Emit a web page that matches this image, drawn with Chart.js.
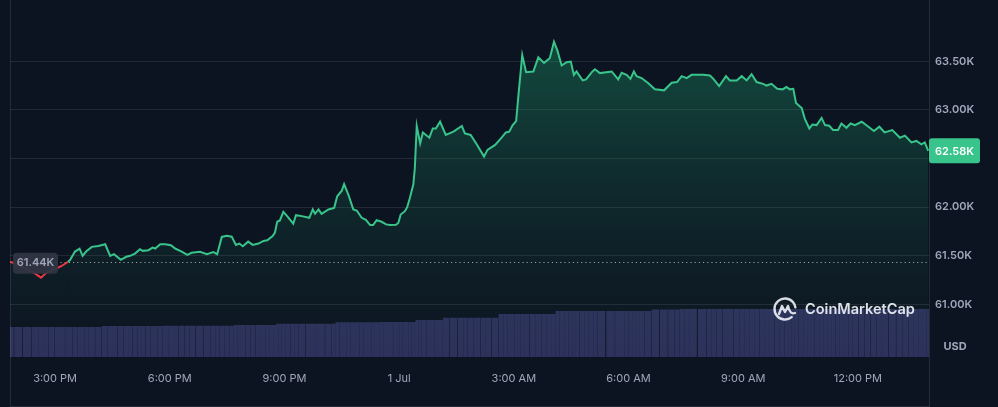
<!DOCTYPE html>
<html>
<head>
<meta charset="utf-8">
<script src="https://cdn.jsdelivr.net/npm/chart.js@4.4.1/dist/chart.umd.min.js"></script>
<style>
  html, body { margin: 0; padding: 0; background: #0d1421; }
  #wrap { width: 998px; height: 407px; position: relative; }
</style>
</head>
<body>
<div id="wrap"><canvas id="priceChart"></canvas></div>
<script>
// hours after 12:00 PM, 30 Jun
const times = [
    1.82, 2.03, 2.27, 2.48, 2.63, 2.74, 2.90, 3.08, 3.18, 3.34,
    3.39, 3.52, 3.64, 3.72, 3.81, 3.96, 4.13, 4.31, 4.44, 4.54,
    4.72, 4.86, 4.96, 5.09, 5.22, 5.29, 5.44, 5.55, 5.62, 5.75,
    5.88, 6.03, 6.14, 6.31, 6.46, 6.57, 6.79, 6.97, 7.14, 7.24,
    7.36, 7.49, 7.62, 7.73, 7.82, 7.91, 8.05, 8.17, 8.32, 8.45,
    8.55, 8.69, 8.75, 8.81, 8.88, 8.97, 9.07, 9.23, 9.30, 9.45,
    9.65, 9.74, 9.80, 9.89, 9.97, 10.15, 10.30, 10.38, 10.50, 10.56,
    10.67, 10.80, 10.89, 11.02, 11.13, 11.24, 11.32, 11.41, 11.54, 11.66,
    11.76, 11.92, 11.98, 12.04, 12.15, 12.21, 12.28, 12.37, 12.41, 12.46,
    12.55, 12.62, 12.79, 12.88, 12.96, 13.07, 13.22, 13.42, 13.64, 13.72,
    13.87, 14.04, 14.22, 14.31, 14.51, 14.68, 14.79, 14.88, 14.97, 15.06,
    15.12, 15.22, 15.32, 15.51, 15.64, 15.79, 15.94, 16.05, 16.14, 16.25,
    16.38, 16.49, 16.57, 16.64, 16.80, 16.89, 17.04, 17.12, 17.25, 17.56,
    17.73, 17.82, 17.95, 18.05, 18.14, 18.21, 18.34, 18.51, 18.69, 18.93,
    19.13, 19.27, 19.39, 19.52, 19.65, 19.95, 20.13, 20.22, 20.37, 20.55,
    20.65, 20.83, 20.96, 21.09, 21.22, 21.35, 21.52, 21.61, 21.74, 21.89,
    22.03, 22.13, 22.22, 22.31, 22.38, 22.53, 22.61, 22.73, 22.81, 22.92,
    23.05, 23.14, 23.25, 23.35, 23.48, 23.57, 23.70, 23.81, 23.92, 24.10,
    24.24, 24.42, 24.56, 24.70, 24.90, 25.10, 25.23, 25.40, 25.53, 25.66,
    25.75, 25.84
];

// BTC price, USD
const prices = [
    61440, 61408, 61357, 61316, 61276, 61316, 61347, 61378, 61398, 61439,
    61456, 61544, 61574, 61500, 61544, 61592, 61602, 61619, 61500, 61517,
    61459, 61490, 61500, 61523, 61568, 61551, 61558, 61585, 61575, 61619,
    61619, 61609, 61575, 61544, 61510, 61531, 61541, 61517, 61538, 61517,
    61694, 61707, 61697, 61612, 61626, 61599, 61646, 61612, 61626, 61653,
    61660, 61704, 61738, 61850, 61864, 61952, 61908, 61830, 61918, 61908,
    61891, 61977, 61932, 61977, 61932, 61977, 61993, 62112, 62170, 62238,
    62130, 61977, 61966, 61891, 61870, 61816, 61816, 61867, 61850, 61823,
    61816, 61819, 61840, 61925, 61959, 62000, 62095, 62232, 62401, 62834,
    62656, 62768, 62714, 62809, 62809, 62878, 62742, 62776, 62834, 62758,
    62742, 62640, 62520, 62589, 62640, 62714, 62768, 62776, 62844, 62885,
    63150, 63564, 63388, 63395, 63541, 63483, 63531, 63701, 63609, 63456,
    63490, 63497, 63360, 63395, 63303, 63313, 63388, 63418, 63378, 63395,
    63313, 63381, 63360, 63319, 63395, 63347, 63327, 63276, 63211, 63201,
    63279, 63286, 63347, 63327, 63360, 63360, 63354, 63319, 63245, 63347,
    63303, 63303, 63347, 63303, 63367, 63286, 63268, 63250, 63268, 63217,
    63211, 63235, 63211, 63217, 63071, 63020, 62911, 62809, 62850, 62844,
    62918, 62844, 62837, 62793, 62793, 62860, 62816, 62860, 62844, 62878,
    62837, 62783, 62827, 62768, 62793, 62714, 62735, 62666, 62681, 62646,
    62666, 62580
];

// 24h volume, billions USD
const volumes = [
    10.9, 10.9, 10.9, 10.9, 10.9, 10.9, 10.9, 10.9, 10.9, 10.9,
    10.9, 10.9, 10.9, 10.9, 10.9, 10.9, 10.9, 11.2, 11.2, 11.2,
    11.2, 11.2, 11.2, 11.2, 11.2, 11.2, 11.2, 11.2, 11.2, 11.2,
    11.3, 11.3, 11.3, 11.3, 11.3, 11.3, 11.3, 11.3, 11.3, 11.3,
    11.3, 11.3, 11.3, 11.6, 11.6, 11.6, 11.6, 11.6, 11.6, 11.6,
    11.6, 11.6, 11.6, 12.0, 12.0, 12.0, 12.0, 12.0, 12.0, 12.0,
    12.0, 12.0, 12.0, 12.0, 12.0, 12.0, 12.0, 12.6, 12.6, 12.6,
    12.6, 12.6, 12.6, 12.6, 12.6, 12.6, 12.6, 12.6, 12.7, 12.7,
    12.7, 12.7, 12.7, 12.7, 12.7, 12.7, 12.7, 12.7, 12.7, 13.4,
    13.4, 13.4, 13.4, 13.4, 13.4, 13.4, 14.2, 14.2, 14.2, 14.2,
    14.2, 14.2, 14.2, 14.2, 14.2, 15.6, 15.6, 15.6, 15.6, 15.6,
    15.6, 15.6, 15.6, 15.6, 15.6, 15.6, 15.6, 15.6, 16.7, 16.7,
    16.7, 16.7, 16.7, 16.7, 16.7, 16.7, 16.7, 16.7, 16.7, 16.7,
    16.7, 16.7, 16.7, 16.7, 16.7, 16.7, 16.7, 16.7, 17.3, 17.3,
    17.3, 17.3, 17.4, 17.4, 17.4, 17.4, 17.4, 17.4, 17.4, 17.4,
    17.4, 17.4, 17.4, 17.4, 17.4, 17.4, 17.4, 17.4, 17.4, 17.4,
    17.4, 17.4, 17.4, 17.4, 17.4, 17.4, 17.4, 17.4, 17.4, 17.4,
    17.4, 17.4, 17.4, 17.4, 17.4, 17.4, 17.4, 17.4, 17.4, 17.4,
    17.4, 17.4, 17.4, 17.4, 17.4, 17.4, 17.4, 17.4, 17.4, 17.4,
    17.4, 17.4
];

const openPrice = 61440;
const priceTicks = [61000, 61500, 62000, 62500, 63000, 63500];
const tickHours = [3, 6, 9, 12, 15, 18, 21, 24];
const tickLabels = ['3:00 PM', '6:00 PM', '9:00 PM', '1 Jul', '3:00 AM', '6:00 AM', '9:00 AM', '12:00 PM'];

const GREEN = '#38c48a';
const RED = '#ea3943';
const AXIS_TEXT = '#a1a7bb';
const GRID = 'rgba(255, 255, 255, 0.09)';

function formatK(v) {
    return (v / 1000).toFixed(2) + 'K';
}

const decorPlugin = {
    id: 'decor',

    beforeDatasetsDraw(chart) {
        const { ctx, chartArea, scales } = chart;
        const y = Math.round(scales.y.getPixelForValue(openPrice)) + 0.5;
        ctx.save();
        ctx.strokeStyle = 'rgba(200, 205, 215, 0.75)';
        ctx.lineWidth = 1;
        ctx.setLineDash([1.2, 3]);
        ctx.beginPath();
        ctx.moveTo(chartArea.left, y);
        ctx.lineTo(chartArea.right, y);
        ctx.stroke();
        ctx.restore();
    },

    afterDraw(chart) {
        const { ctx, chartArea, scales } = chart;
        const H = chart.height;
        ctx.save();

        // frame
        ctx.strokeStyle = 'rgba(255, 255, 255, 0.1)';
        ctx.lineWidth = 1;
        ctx.beginPath();
        ctx.moveTo(chartArea.left + 0.5, 0);
        ctx.lineTo(chartArea.left + 0.5, H - 0.5);
        ctx.lineTo(chartArea.right + 0.5, H - 0.5);
        ctx.moveTo(chartArea.right + 0.5, 0);
        ctx.lineTo(chartArea.right + 0.5, H);
        ctx.stroke();

        ctx.font = '600 11px Inter, sans-serif';
        ctx.textBaseline = 'middle';

        // opening price tag
        const yBase = scales.y.getPixelForValue(openPrice);
        ctx.fillStyle = 'rgba(48, 53, 67, 0.95)';
        ctx.beginPath();
        ctx.roundRect(13, yBase - 9, 45, 21, 4);
        ctx.fill();
        ctx.fillStyle = AXIS_TEXT;
        ctx.textAlign = 'center';
        ctx.fillText(formatK(openPrice), 35.5, yBase + 1.5);

        // last price tag
        const last = prices[prices.length - 1];
        const yLast = scales.y.getPixelForValue(last);
        ctx.fillStyle = GREEN;
        ctx.beginPath();
        ctx.roundRect(chartArea.right, yLast - 12.5, 51, 25, 3);
        ctx.fill();
        ctx.fillStyle = '#ffffff';
        ctx.fillText(formatK(last), chartArea.right + 25.5, yLast + 0.5);

        // currency
        ctx.fillStyle = AXIS_TEXT;
        ctx.font = '700 11px Inter, sans-serif';
        ctx.fillText('USD', 955, 347);

        // watermark
        const cx = 785, cy = 309, r = 10.5;
        ctx.strokeStyle = 'rgba(240, 242, 248, 0.9)';
        ctx.lineWidth = 2.4;
        ctx.lineCap = 'round';
        ctx.lineJoin = 'round';
        ctx.beginPath();
        ctx.arc(cx, cy, r, 0.28 * Math.PI, 1.95 * Math.PI);
        ctx.stroke();
        ctx.beginPath();
        ctx.moveTo(cx - 6, cy + 5);
        ctx.lineTo(cx - 3, cy - 3);
        ctx.lineTo(cx, cy + 3);
        ctx.lineTo(cx + 3, cy - 3);
        ctx.quadraticCurveTo(cx + 5, cy + 6, cx + 10, cy + 4);
        ctx.stroke();

        ctx.fillStyle = 'rgba(240, 242, 248, 0.92)';
        ctx.textAlign = 'left';
        ctx.font = '600 16px Inter, sans-serif';
        const w = ctx.measureText('CoinMarketCap').width;
        const size = 16 * 110 / w;
        ctx.font = '600 ' + size.toFixed(2) + 'px Inter, sans-serif';
        ctx.fillText('CoinMarketCap', 805, cy + 0.5);

        ctx.restore();
    }
};

function fillGradient(context) {
    const chart = context.chart;
    const area = chart.chartArea;
    if (!area) return 'rgba(52, 194, 133, 0.15)';
    const g = chart.ctx.createLinearGradient(0, 40, 0, area.bottom);
    g.addColorStop(0, 'rgba(34, 199, 132, 0.30)');
    g.addColorStop(0.4, 'rgba(34, 199, 132, 0.14)');
    g.addColorStop(0.75, 'rgba(34, 199, 132, 0.05)');
    g.addColorStop(1, 'rgba(34, 199, 132, 0.0)');
    return g;
}

const priceData = times.map((t, i) => ({ x: t, y: prices[i] }));
const volumeData = times.map((t, i) => ({ x: t, y: volumes[i] }));

new Chart(document.getElementById('priceChart'), {
    data: {
        datasets: [
            {
                type: 'line',
                label: 'Price',
                data: priceData,
                yAxisID: 'y',
                order: 1,
                borderColor: GREEN,
                borderWidth: 2,
                pointRadius: 0,
                tension: 0,
                fill: 'start',
                backgroundColor: fillGradient,
                segment: {
                    borderColor(ctx) {
                        return Math.max(ctx.p0.parsed.y, ctx.p1.parsed.y) <= openPrice ? RED : GREEN;
                    }
                }
            },
            {
                type: 'bar',
                label: 'Volume',
                data: volumeData,
                yAxisID: 'vol',
                order: 2,
                backgroundColor: '#2d315b',
                borderWidth: 0,
                barThickness: 'flex',
                categoryPercentage: 0.86,
                barPercentage: 1
            }
        ]
    },
    options: {
        responsive: true,
        maintainAspectRatio: false,
        animation: false,
        layout: {
            padding: { left: 10, top: 10, right: 0, bottom: 0 }
        },
        plugins: {
            legend: { display: false },
            tooltip: { enabled: false }
        },
        scales: {
            x: {
                type: 'linear',
                offset: false,
                min: 1.82,
                max: 25.86,
                afterBuildTicks(axis) {
                    axis.ticks = tickHours.map(v => ({ value: v }));
                },
                afterFit(axis) {
                    axis.height = 50;
                },
                grid: { display: false, drawTicks: false, offset: false },
                border: { display: false },
                ticks: {
                    autoSkip: false,
                    maxRotation: 0,
                    padding: 15,
                    color: AXIS_TEXT,
                    font: { family: "Inter, sans-serif", size: 11 },
                    callback(value) {
                        const i = tickHours.indexOf(value);
                        return i >= 0 ? tickLabels[i] : '';
                    }
                }
            },
            y: {
                position: 'right',
                min: 60460,
                max: 64000,
                afterBuildTicks(axis) {
                    axis.ticks = priceTicks.map(v => ({ value: v }));
                },
                afterFit(axis) {
                    axis.width = 69;
                },
                grid: { color: GRID, drawTicks: false },
                border: { display: false },
                ticks: {
                    padding: 6,
                    color: AXIS_TEXT,
                    font: { family: "Inter, sans-serif", size: 11, weight: '600' },
                    callback(value) {
                        return formatK(value);
                    }
                }
            },
            vol: {
                display: false,
                min: 0,
                max: 126
            }
        }
    },
    plugins: [decorPlugin]
});
</script>
</body>
</html>
